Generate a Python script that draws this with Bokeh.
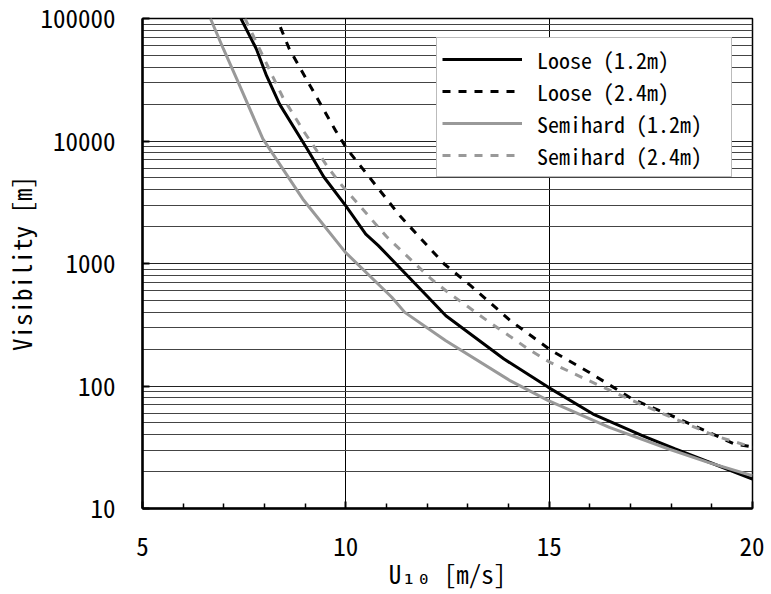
from bokeh.plotting import figure
from bokeh.models import Range1d, FixedTicker, NumeralTickFormatter, Legend, LegendItem
from bokeh.embed import file_html
from bokeh.resources import INLINE

FONT = "'Noto Sans Mono CJK JP', 'DejaVu Sans Mono', monospace"

# ---- data ----
loose12_x = [7.42, 7.80, 8.05, 8.37, 9.05, 9.46, 10.0, 10.49, 10.80, 12.02, 12.46, 13.89, 14.98, 16.08, 17.29, 18.10, 20.0]
loose12_y = [100000, 56400, 34100, 20000, 8600, 5080, 2950, 1740, 1400, 533, 375, 166, 97.5, 59, 39.3, 30.6, 17.4]

loose24_x = [8.39, 8.61, 9.26, 9.75, 10.03, 11.33, 12.42, 13.07, 14.05, 15.06, 15.99, 17.05, 18.10, 19.56, 20.0]
loose24_y = [85000, 56400, 23450, 12130, 8600, 2450, 990, 659, 341, 194, 129, 78, 55.6, 33.6, 31.8]

semi12_x = [6.67, 6.99, 7.32, 7.96, 8.94, 9.99, 11.13, 11.45, 12.46, 14.05, 14.98, 16.48, 17.94, 18.91, 20.0]
semi12_y = [100000, 56400, 32000, 10400, 3365, 1233, 530, 399, 234, 110, 76, 46, 30.6, 23.8, 18.5]

semi24_x = [7.52, 8.21, 8.45, 8.98, 9.59, 9.91, 11.0, 12.10, 12.51, 13.48, 14.49, 15.02, 15.99, 17.05, 18.10, 19.07, 20.0]
semi24_y = [100000, 33200, 22750, 11780, 5900, 4315, 1660, 747, 582, 341, 200, 156, 110, 76, 53.8, 39.3, 31.6]

series_names = ["Loose (1.2m)", "Loose (2.4m)", "Semihard (1.2m)", "Semihard (2.4m)"]

x_major = [5, 10, 15, 20]
x_minor = [6, 7, 8, 9, 11, 12, 13, 14, 16, 17, 18, 19]
y_major = [10, 100, 1000, 10000, 100000]
y_minor = [m * d for d in [10, 100, 1000, 10000] for m in range(2, 10)]

p = figure(
    x_range=Range1d(5, 20), y_range=Range1d(10, 100000), y_axis_type="log",
    frame_width=610, frame_height=490,
    min_border_left=133, min_border_right=12, min_border_top=18, min_border_bottom=77,
    output_backend="svg", toolbar_location=None,
)
p.background_fill_color = "white"
p.border_fill_color = "white"
p.outline_line_color = "black"
p.outline_line_width = 1.5

# axes
xa = p.xaxis[0]
ya = p.yaxis[0]
xa.ticker = FixedTicker(ticks=x_major, minor_ticks=x_minor)
ya.ticker = FixedTicker(ticks=y_major, minor_ticks=y_minor)
ya.formatter = NumeralTickFormatter(format="0")
for ax in (xa, ya):
    ax.axis_line_color = "black"
    ax.axis_line_width = 2.5
    ax.major_tick_in = 7
    ax.major_tick_out = 0
    ax.major_tick_line_width = 2
    ax.major_tick_line_color = "black"
    ax.major_label_text_font = FONT
    ax.major_label_text_font_size = "25px"
    ax.major_label_text_color = "black"
    ax.axis_label_text_font = FONT
    ax.axis_label_text_font_size = "25px"
    ax.axis_label_text_font_style = "normal"
    ax.axis_label_text_color = "black"
xa.minor_tick_in = 5
xa.minor_tick_out = 0
xa.minor_tick_line_width = 1.5
xa.minor_tick_line_color = "black"
ya.minor_tick_line_color = None
xa.major_label_standoff = 28
ya.major_label_standoff = 23
xa.axis_label = "U\u2081\u2080 [m/s]"
ya.axis_label = "Visibility [m]"
xa.axis_label_standoff = -4
ya.axis_label_standoff = -2

# grids
p.xgrid.ticker = FixedTicker(ticks=x_major)
p.xgrid.grid_line_color = "black"
p.xgrid.grid_line_width = 1
p.ygrid.ticker = FixedTicker(ticks=y_major, minor_ticks=y_minor)
p.ygrid.grid_line_color = "#222222"
p.ygrid.grid_line_width = 1
p.ygrid.minor_grid_line_color = "#444444"
p.ygrid.minor_grid_line_width = 1

GRAY = "#999999"
r1 = p.line(loose12_x, loose12_y, line_color="black", line_width=3)
r2 = p.line(loose24_x, loose24_y, line_color="black", line_width=3, line_dash="8 8")
r3 = p.line(semi12_x, semi12_y, line_color=GRAY, line_width=3)
r4 = p.line(semi24_x, semi24_y, line_color=GRAY, line_width=3, line_dash="8 8")

legend = Legend(
    items=[LegendItem(label=n, renderers=[r]) for n, r in zip(series_names, [r1, r2, r3, r4])],
    location=(294, 331),
    padding=5, spacing=-3, glyph_height=26, glyph_width=80, label_height=26,
    label_standoff=15, label_width=189, margin=0,
    label_text_font=FONT, label_text_font_size="22px", label_text_color="black",
    border_line_color="#777777", border_line_width=1.5,
    background_fill_color="white", background_fill_alpha=1.0,
)
p.add_layout(legend, "center")

open("out.html", "w").write(file_html(p, INLINE))
